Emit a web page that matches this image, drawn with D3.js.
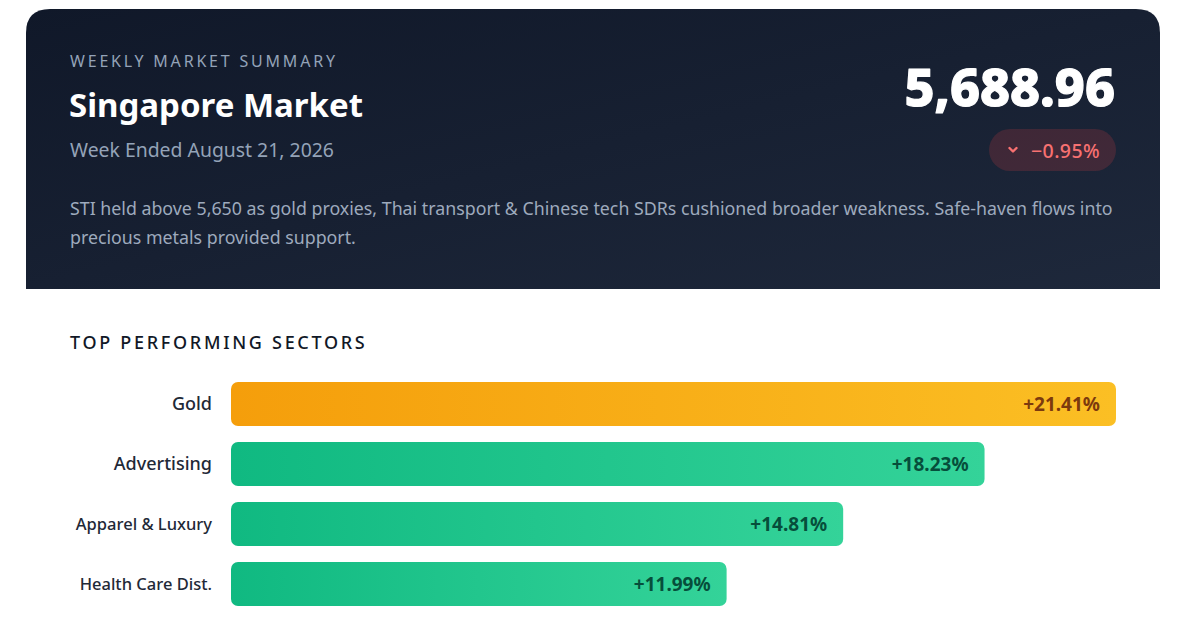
<!DOCTYPE html>
<html>
<head>
<meta charset="utf-8">
<script src="https://cdn.jsdelivr.net/npm/d3@7"></script>
<style>
  body { margin: 0; background: #fff; }
  svg { display: block; font-family: "Noto Sans", "Open Sans", sans-serif; }
</style>
</head>
<body>
<svg id="chart"></svg>
<script>
// данные графика
let sectors = ["Gold", "Advertising", "Apparel & Luxury", "Health Care Dist."];
let changes = [21.41, 18.23, 14.81, 11.99];
let indexValue = "5,688.96";
let weekChange = "\u22120.95%";
let descLines = [
    "STI held above 5,650 as gold proxies, Thai transport & Chinese tech SDRs cushioned broader weakness. Safe-haven flows into",
    "precious metals provided support."
];

let width = 1178;
let height = 623;

let svg = d3.select("#chart")
    .attr("width", width)
    .attr("height", height);

let defs = svg.append("defs");

let hdrGrad = defs.append("linearGradient")
    .attr("id", "hdr")
    .attr("x1", "0%").attr("y1", "0%")
    .attr("x2", "100%").attr("y2", "100%");
hdrGrad.append("stop").attr("offset", "0%").attr("stop-color", "#101829");
hdrGrad.append("stop").attr("offset", "100%").attr("stop-color", "#1e283b");

let goldGrad = defs.append("linearGradient").attr("id", "gold");
goldGrad.append("stop").attr("offset", "0%").attr("stop-color", "#f59e0b");
goldGrad.append("stop").attr("offset", "100%").attr("stop-color", "#fbbf24");

let greenGrad = defs.append("linearGradient").attr("id", "green");
greenGrad.append("stop").attr("offset", "0%").attr("stop-color", "#10b981");
greenGrad.append("stop").attr("offset", "100%").attr("stop-color", "#34d399");

// шапка с закруглёнными верхними углами
let cx0 = 26, cx1 = 1160, cy0 = 9, cy1 = 289, r = 24;
svg.append("path")
    .attr("d", `M${cx0},${cy1} V${cy0 + r} Q${cx0},${cy0} ${cx0 + r},${cy0} H${cx1 - r} Q${cx1},${cy0} ${cx1},${cy0 + r} V${cy1} Z`)
    .attr("fill", "url(#hdr)");

svg.append("text")
    .attr("x", 70).attr("y", 67)
    .attr("fill", "#94a3b8")
    .attr("font-size", 16)
    .attr("letter-spacing", "2.8px")
    .text("WEEKLY MARKET SUMMARY");

svg.append("text")
    .attr("x", 69).attr("y", 117)
    .attr("fill", "#ffffff")
    .attr("font-size", 33)
    .attr("font-weight", 700)
    .text("Singapore Market");

svg.append("text")
    .attr("x", 70).attr("y", 157)
    .attr("fill", "#94a3b8")
    .attr("font-size", 19.4)
    .text("Week Ended August 21, 2026");

svg.append("text")
    .attr("x", 1115).attr("y", 106)
    .attr("text-anchor", "end")
    .attr("fill", "#ffffff")
    .attr("stroke", "#ffffff")
    .attr("stroke-width", 1.2)
    .attr("stroke-linejoin", "round")
    .attr("font-size", 52)
    .attr("font-weight", 800)
    .text(indexValue);

// плашка изменения
svg.append("rect")
    .attr("x", 989).attr("y", 129)
    .attr("width", 127).attr("height", 42)
    .attr("rx", 21)
    .attr("fill", "rgba(239,68,68,0.18)");

svg.append("path")
    .attr("d", "M1009.5,148 L1013,151.5 L1016.5,148")
    .attr("fill", "none")
    .attr("stroke", "#f87171")
    .attr("stroke-width", 2.4)
    .attr("stroke-linecap", "round")
    .attr("stroke-linejoin", "round");

svg.append("text")
    .attr("x", 1100).attr("y", 158)
    .attr("text-anchor", "end")
    .attr("fill", "#f87171")
    .attr("font-size", 19.5)
    .attr("font-weight", 500)
    .attr("letter-spacing", "0.4px")
    .text(weekChange);

svg.append("text")
    .attr("fill", "#9eaabd")
    .attr("font-size", 17.8)
    .selectAll("tspan")
    .data(descLines)
    .enter()
    .append("tspan")
    .attr("x", 70)
    .attr("y", (d, i) => 215 + i * 29)
    .text(d => d);

// раздел секторов
svg.append("text")
    .attr("x", 70).attr("y", 349)
    .attr("fill", "#111827")
    .attr("font-size", 18)
    .attr("font-weight", 500)
    .attr("letter-spacing", "2.7px")
    .text("TOP PERFORMING SECTORS");

let barX = 231;
let barMaxW = 885;

let scaleX = d3.scaleLinear()
    .domain([0, d3.max(changes)])
    .range([0, barMaxW]);

let scaleY = d3.scaleBand()
    .domain(sectors)
    .range([382, 606])
    .paddingInner(16 / 60);

let rows = svg.append("g")
    .selectAll("g.row")
    .data(sectors.map((s, i) => ({ name: s, value: changes[i], idx: i })))
    .enter()
    .append("g")
    .attr("class", "row")
    .attr("transform", d => `translate(0, ${scaleY(d.name)})`);

rows.append("text")
    .attr("x", 212)
    .attr("y", scaleY.bandwidth() / 2)
    .attr("dy", "0.35em")
    .attr("text-anchor", "end")
    .attr("fill", "#1f2937")
    .attr("font-size", d => d.name.length > 12 ? 16.5 : 18)
    .attr("font-weight", 500)
    .text(d => d.name);

rows.append("rect")
    .attr("x", barX)
    .attr("width", d => scaleX(d.value))
    .attr("height", scaleY.bandwidth())
    .attr("rx", 7)
    .attr("fill", d => d.idx === 0 ? "url(#gold)" : "url(#green)");

rows.append("text")
    .attr("x", d => barX + scaleX(d.value) - 16)
    .attr("y", scaleY.bandwidth() / 2)
    .attr("dy", "0.35em")
    .attr("text-anchor", "end")
    .attr("fill", d => d.idx === 0 ? "#7c3a0e" : "#064e3b")
    .attr("font-size", 19)
    .attr("font-weight", 700)
    .text(d => "+" + d.value.toFixed(2) + "%");
</script>
</body>
</html>
